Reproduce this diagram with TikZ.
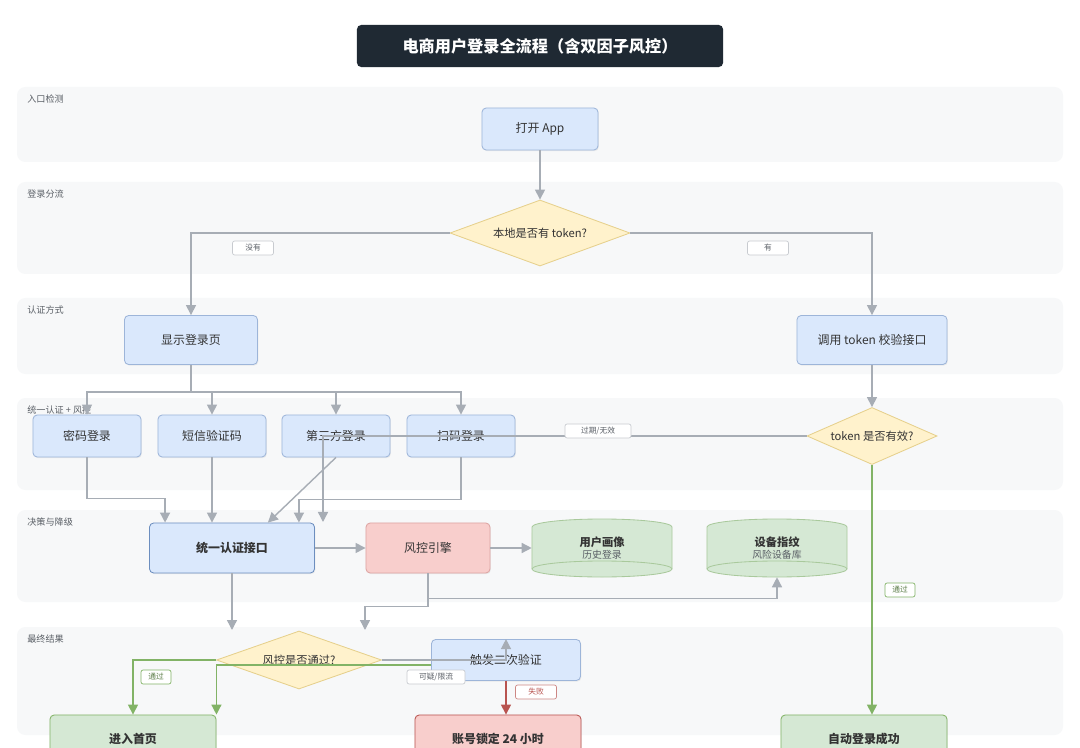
\documentclass[tikz,border=0pt]{standalone}
\usepackage{fontspec}
\setmainfont{Noto Sans CJK SC}
\usepackage{tikz}
\usetikzlibrary{arrows.meta, shapes, shadows}

\definecolor{laneback}{HTML}{F7F8F9}
\definecolor{lanetext}{HTML}{5A5F66}
\definecolor{ink}{HTML}{333333}
\definecolor{titleback}{HTML}{1F2933}
\definecolor{bluefill}{HTML}{DAE8FC}
\definecolor{blueline}{HTML}{9DB5D9}
\definecolor{bluedark}{HTML}{6C8EBF}
\definecolor{yellowfill}{HTML}{FFF2CC}
\definecolor{yellowline}{HTML}{E6D08C}
\definecolor{redfill}{HTML}{F8CECC}
\definecolor{redline}{HTML}{DDA4A2}
\definecolor{reddark}{HTML}{B85450}
\definecolor{greenfill}{HTML}{D5E8D4}
\definecolor{greenline}{HTML}{A9C99C}
\definecolor{greendark}{HTML}{82B366}
\definecolor{flowgray}{HTML}{A7ADB5}
\definecolor{tagline}{HTML}{C8CBD0}

\tikzset{
  lane/.style={fill=laneback, rounded corners=6pt},
  lanename/.style={anchor=west, inner sep=0pt, text=lanetext, font=\fontsize{6.5}{7}\selectfont},
  titlebox/.style={fill=titleback, rounded corners=3pt, text=white, inner sep=0pt,
    minimum width=9.15cm, minimum height=1.05cm, font=\fontsize{11.5}{13}\selectfont\bfseries},
  proc/.style={draw=blueline, fill=bluefill, rounded corners=3pt, line width=0.6pt, inner sep=0pt,
    text=ink, font=\fontsize{8.5}{10}\selectfont,
    drop shadow={opacity=0.12, shadow xshift=0.6pt, shadow yshift=-0.8pt}},
  prockey/.style={proc, draw=bluedark, font=\fontsize{8.5}{10}\selectfont\bfseries},
  riskbox/.style={proc, draw=redline, fill=redfill},
  okbox/.style={proc, draw=greendark, fill=greenfill, font=\fontsize{8.5}{10}\selectfont\bfseries},
  lockbox/.style={proc, draw=reddark, fill=redfill, font=\fontsize{8.5}{10}\selectfont\bfseries},
  decide/.style={diamond, draw=yellowline, fill=yellowfill, line width=0.6pt, inner sep=0pt,
    text=ink, font=\fontsize{8}{10}\selectfont},
  store/.style={draw=greenline, fill=greenfill, line width=0.6pt},
  storetext/.style={inner sep=0pt, minimum width=3.5cm, minimum height=1.45cm, align=center,
    text=ink, font=\fontsize{8}{9.5}\selectfont},
  flowline/.style={draw=flowgray, line width=1pt, -{Triangle[length=2.5mm, width=2.5mm]}},
  okline/.style={flowline, draw=greendark},
  failline/.style={flowline, draw=reddark},
  edgetag/.style={fill=white, draw=tagline, rounded corners=1.5pt, line width=0.5pt, inner sep=0pt,
    minimum height=0.35cm, text=lanetext, font=\fontsize{5.5}{6}\selectfont},
  oktag/.style={edgetag, draw=greendark, text=greendark!70!black},
  failtag/.style={edgetag, draw=reddark!70, text=reddark},
}

% cylinder body, centred at (#1,#2), 140 x 58 px
\newcommand{\drum}[2]{%
  \draw[store] (#1-70,#2-21) arc[start angle=180, end angle=0, x radius=1.75cm, y radius=0.2cm]
    -- (#1+70,#2+21) arc[start angle=0, end angle=-180, x radius=1.75cm, y radius=0.2cm] -- cycle;
  \draw[store] (#1-70,#2+21) arc[start angle=180, end angle=0, x radius=1.75cm, y radius=0.2cm];}

\begin{document}
\begin{tikzpicture}[x=0.025cm, y=-0.025cm]
\useasboundingbox[fill=white] (0,0) rectangle (1080,748);

% swimlanes
\foreach \ytop/\ybot/\id/\txt in {87/162/entry/入口检测, 182/274/split/登录分流,
    298/374/auth/认证方式, 398/490/unify/统一认证 + 风控,
    510/602/decide/决策与降级, 627/735/final/最终结果} {
  \fill[lane] (17,\ytop) rectangle (1063,\ybot);
  \node[lanename] (lane-\id) at (27,\ytop+12) {\txt};
}

\node[titlebox] (title) at (540,46) {电商用户登录全流程（含双因子风控）};

% nodes
\node[proc, minimum width=2.9cm, minimum height=1.05cm] (app) at (540,129) {打开 App};
\node[decide, aspect=2.7, minimum width=4.5cm, minimum height=1.65cm] (hastoken) at (540,233) {本地是否有 token?};
\node[proc, minimum width=3.325cm, minimum height=1.225cm] (login) at (191,340) {显示登录页};
\node[proc, minimum width=3.75cm, minimum height=1.225cm] (verify) at (872,340) {调用 token 校验接口};
\node[proc, minimum width=2.7cm, minimum height=1.05cm] (pwd) at (87,436) {密码登录};
\node[proc, minimum width=2.7cm, minimum height=1.05cm] (sms) at (212,436) {短信验证码};
\node[proc, minimum width=2.7cm, minimum height=1.05cm] (third) at (336,436) {第三方登录};
\node[proc, minimum width=2.7cm, minimum height=1.05cm] (scan) at (461,436) {扫码登录};
\node[decide, aspect=2.3, minimum width=3.25cm, minimum height=1.425cm] (valid) at (872,436) {token 是否有效?};
\node[prockey, minimum width=4.125cm, minimum height=1.25cm] (unified) at (232,548) {统一认证接口};
\node[riskbox, minimum width=3.1cm, minimum height=1.25cm] (risk) at (428,548) {风控引擎};
\drum{602}{548}
\node[storetext] (prof) at (602,548) {\textbf{用户画像}\\[-1pt]{\fontsize{7}{8}\selectfont\color{lanetext}历史登录}};
\drum{777}{548}
\node[storetext] (dev) at (777,548) {\textbf{设备指纹}\\[-1pt]{\fontsize{7}{8}\selectfont\color{lanetext}风险设备库}};
\node[decide, aspect=2.85, minimum width=4.125cm, minimum height=1.45cm] (gate) at (299,660) {风控是否通过?};
\node[proc, minimum width=3.725cm, minimum height=1.025cm] (twofa) at (506,660) {触发二次验证};
\node[okbox, minimum width=4.15cm, minimum height=1.2cm] (home) at (133,739) {进入首页};
\node[lockbox, minimum width=4.15cm, minimum height=1.2cm] (lock) at (498,739) {账号锁定 24 小时};
\node[okbox, minimum width=4.15cm, minimum height=1.2cm] (auto) at (864,739) {自动登录成功};

\coordinate (fan) at (191,392);
\coordinate (lost) at (323,522);
\coordinate (uk) at (232,630);
\coordinate (rk) at (365,630);

% connectors
\draw[flowline] (app) -- (hastoken);
\draw[flowline] (hastoken.west) -| (login);
\draw[flowline] (hastoken.east) -| (verify);
\draw[flowline] (login) -- (fan) -| (pwd);
\draw[flowline] (fan) -| (sms);
\draw[flowline] (fan) -| (third);
\draw[flowline] (fan) -| (scan);
\draw[flowline] (verify) -- (valid);
\draw[flowline] (valid.west) -| (lost);
\draw[flowline] (pwd.south) -- ++(0,41) -| ([xshift=0.4cm]unified.north west);
\draw[flowline] (sms) -- (sms |- unified.north);
\draw[flowline] (third.south) -- ([xshift=-1.175cm]unified.north east);
\draw[flowline] (scan.south) -- ++(0,42) -| ([xshift=-0.4cm]unified.north east);
\draw[flowline] (unified) -- (risk);
\draw[flowline] (risk) -- (prof);
\draw[flowline] (risk.south) -- ++(0,25) -| (dev.south);
\draw[flowline] (risk.south) -- ++(0,33) -| (rk);
\draw[flowline] (unified) -- (uk);
\draw[okline] (gate.west) -| (home);
\draw[flowline] (gate.east) -| (twofa.north);
\draw[okline] ([yshift=-0.125cm]twofa.west) -| (home.north east);
\draw[failline] (twofa) -- (twofa |- lock.north);
\draw[okline] (valid) -- (valid |- auto.north);

% connector labels
\node[edgetag, minimum width=1.025cm] (tag-no) at (253,248) {没有};
\node[edgetag, minimum width=1.025cm] (tag-yes) at (768,248) {有};
\node[edgetag, minimum width=1.65cm] (tag-expired) at (598,431) {过期/无效};
\node[oktag, minimum width=0.75cm] (tag-pass) at (156,677) {通过};
\node[edgetag, minimum width=1.45cm] (tag-suspect) at (436,677) {可疑/限流};
\node[failtag, minimum width=1.025cm] (tag-fail) at (536,692) {失败};
\node[oktag, minimum width=0.75cm] (tag-auto) at (900,590) {通过};
\end{tikzpicture}
\end{document}
